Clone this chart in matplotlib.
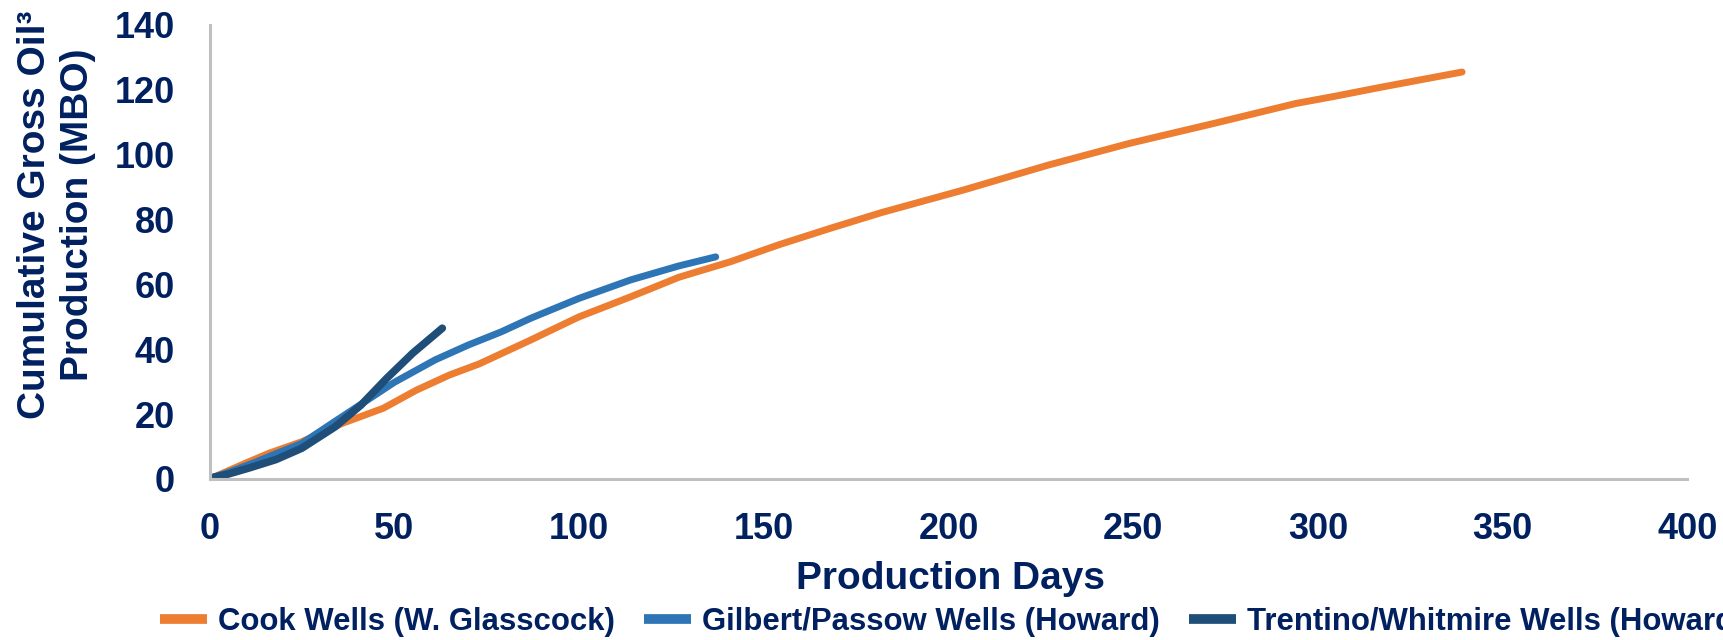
import matplotlib
matplotlib.use('Agg')
import matplotlib.pyplot as plt

# cumulative gross oil (MBO) vs production days
cook_days = [1, 5, 10, 16, 25, 36, 47, 56, 65, 73, 87, 100, 114, 127, 141, 154,
             168, 182, 204, 227, 249, 272, 294, 304, 317, 339]
cook_mbo = [0.5, 2.5, 5.0, 7.9, 11.5, 17.2, 21.8, 27.4, 32.1, 35.5, 42.9, 50.0,
            56.2, 62.2, 67.0, 72.2, 77.3, 82.2, 89.1, 96.8, 103.5, 109.7, 115.8,
            117.9, 120.8, 125.5]

gilbert_days = [1, 5, 12, 18, 25, 34, 42, 50, 61, 70, 79, 87, 100, 114, 127, 137]
gilbert_mbo = [0.5, 2.0, 5.0, 7.8, 11.0, 17.8, 23.8, 29.8, 36.7, 41.3, 45.4, 49.6,
               55.7, 61.4, 65.7, 68.5]

trentino_days = [1, 5, 11, 18, 25, 34, 41, 48, 55, 63]
trentino_mbo = [0.5, 1.5, 3.5, 6.0, 9.5, 16.1, 22.8, 31.1, 38.8, 46.5]

labels = ['Cook Wells (W. Glasscock)', 'Gilbert/Passow Wells (Howard)',
          'Trentino/Whitmire Wells (Howard)']
colors = ['#ED7D31', '#2E75B6', '#1F4E79']

x_ticks = [0, 50, 100, 150, 200, 250, 300, 350, 400]
y_ticks = [0, 20, 40, 60, 80, 100, 120, 140]

NAVY = '#002060'
plt.rcParams['font.family'] = ['Liberation Sans', 'DejaVu Sans']
plt.rcParams['font.weight'] = 'bold'

fig = plt.figure(figsize=(17.23, 6.4), dpi=100)
ax = fig.add_axes([209.5 / 1723, 1 - 479 / 640, (1687.5 - 209.5) / 1723, (479 - 25) / 640])

series = [(cook_days, cook_mbo), (gilbert_days, gilbert_mbo), (trentino_days, trentino_mbo)]
widths = [5, 5, 5.5]
handles = []
for (d, v), lab, c, lw in zip(series, labels, colors, widths):
    h, = ax.plot(d, v, color=c, lw=lw, solid_capstyle='round',
                 solid_joinstyle='round', label=lab)
    handles.append(h)

ax.set_xlim(0, 400)
ax.set_ylim(0, 140)
ax.set_xticks(x_ticks)
ax.set_yticks(y_ticks)
ax.tick_params(axis='both', length=0, labelsize=26, labelcolor=NAVY)
ax.tick_params(axis='x', pad=24)
ax.tick_params(axis='y', pad=25)
for lbl in ax.get_xticklabels() + ax.get_yticklabels():
    lbl.set_fontweight('bold')
for s in ['top', 'right']:
    ax.spines[s].set_visible(False)
for s in ['left', 'bottom']:
    ax.spines[s].set_color('#BFBFBF')
    ax.spines[s].set_linewidth(2.2)
ax.patch.set_alpha(0)

fig.text(57 / 1723, 1 - 215 / 640, 'Cumulative Gross Oil³\nProduction (MBO)',
         rotation=90, ha='center', va='center', ma='center', fontsize=28,
         fontweight='bold', color=NAVY, linespacing=1.25)
fig.text(950 / 1723, 1 - 579 / 640, 'Production Days', ha='center', va='center',
         fontsize=28, fontweight='bold', color=NAVY)

# the reference legend runs past the right edge, so the last label is clipped there too
leg = fig.legend(handles=handles, labels=labels, loc='center left',
                 bbox_to_anchor=(160 / 1723, 1 - 622 / 640), ncol=3, frameon=False,
                 fontsize=22.4, handlelength=1.5, handletextpad=0.36,
                 columnspacing=0.95, borderpad=0, borderaxespad=0)
for t in leg.get_texts():
    t.set_color(NAVY)
    t.set_fontweight('bold')
for h in leg.legend_handles:
    h.set_linewidth(7)
    h.set_solid_capstyle('butt')

fig.savefig('out.png', dpi=100)
